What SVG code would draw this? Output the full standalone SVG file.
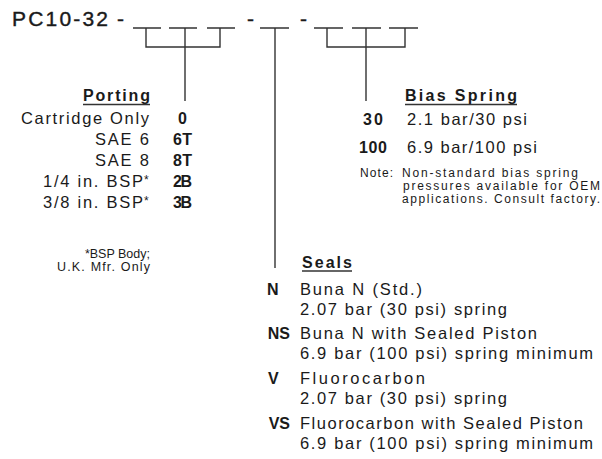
<svg xmlns="http://www.w3.org/2000/svg" width="602" height="459" viewBox="0 0 602 459">
<style>
text{font-family:"Liberation Sans",Arial,sans-serif;fill:#1a1a1a}
.t{font-size:21px;stroke:#1a1a1a;stroke-width:0.4}
.m{font-size:16.5px}
.b{font-size:16px;font-weight:bold}
.s{font-size:12px}
.f{font-size:12.5px}
.ln{stroke:#333;stroke-width:1.4;fill:none}
</style>
<rect width="602" height="459" fill="#fff"/>
<g id="title">
<text class="t" x="12" y="26" textLength="96" lengthAdjust="spacing">PC10-32</text>
<text class="t" x="117" y="26">-</text>
<text class="t" x="247" y="26">-</text>
<text class="t" x="300" y="26">-</text>
<path class="ln" d="M133,28H161M169,28H197M207,28H235M260,28H289M314,28H343M352,28H381M389,28H418"/>
</g>
<g id="connectors">
<path class="ln" d="M146,28V47H220V28M185,28V101"/>
<path class="ln" d="M275,28V268"/>
<path class="ln" d="M327,28V47H405V28M366,28V101"/>
</g>
<g id="porting">
<text class="b" x="83" y="101" textLength="67" lengthAdjust="spacing">Porting</text>
<path class="ln" d="M83,104.5H150"/>
<text class="m" x="21" y="124" textLength="128" lengthAdjust="spacing">Cartridge Only</text>
<text class="b" x="178" y="124">0</text>
<text class="m" x="95" y="145" textLength="54" lengthAdjust="spacing">SAE 6</text>
<text class="b" x="173" y="145" textLength="19" lengthAdjust="spacing">6T</text>
<text class="m" x="95" y="166" textLength="54" lengthAdjust="spacing">SAE 8</text>
<text class="b" x="173" y="166" textLength="19" lengthAdjust="spacing">8T</text>
<text class="m" x="43" y="187" textLength="100" lengthAdjust="spacing">1/4 in. BSP</text>
<text class="s" x="144" y="184">*</text>
<text class="b" x="173" y="187" textLength="19" lengthAdjust="spacing">2B</text>
<text class="m" x="43" y="208" textLength="100" lengthAdjust="spacing">3/8 in. BSP</text>
<text class="s" x="144" y="205">*</text>
<text class="b" x="173" y="208" textLength="19" lengthAdjust="spacing">3B</text>
<text class="f" x="150" y="257.5" text-anchor="end">*BSP Body;</text>
<text class="f" x="57" y="271" textLength="93" lengthAdjust="spacing">U.K. Mfr. Only</text>
</g>
<g id="bias-spring">
<text class="b" x="405" y="101" textLength="112" lengthAdjust="spacing">Bias Spring</text>
<path class="ln" d="M405,104.5H517"/>
<text class="b" x="363" y="125" textLength="20" lengthAdjust="spacing">30</text>
<text class="m" x="407" y="125" textLength="120" lengthAdjust="spacing">2.1 bar/30 psi</text>
<text class="b" x="359" y="153" textLength="28" lengthAdjust="spacing">100</text>
<text class="m" x="407" y="153" textLength="130" lengthAdjust="spacing">6.9 bar/100 psi</text>
<text class="s" x="360" y="177" textLength="33" lengthAdjust="spacing">Note:</text>
<text class="s" x="402" y="177" textLength="176" lengthAdjust="spacing">Non-standard bias spring</text>
<text class="s" x="403" y="190" textLength="197" lengthAdjust="spacing">pressures available for OEM</text>
<text class="s" x="402" y="203" textLength="198" lengthAdjust="spacing">applications. Consult factory.</text>
</g>
<g id="seals">
<text class="b" x="302" y="268" textLength="50" lengthAdjust="spacing">Seals</text>
<path class="ln" d="M302,271H352"/>
<text class="b" x="267" y="295">N</text>
<text class="m" x="300" y="295" textLength="122" lengthAdjust="spacing">Buna N (Std.)</text>
<text class="m" x="300" y="315" textLength="207" lengthAdjust="spacing">2.07 bar (30 psi) spring</text>
<text class="b" x="290" y="339" text-anchor="end">NS</text>
<text class="m" x="300" y="339" textLength="237" lengthAdjust="spacing">Buna N with Sealed Piston</text>
<text class="m" x="300" y="359" textLength="293" lengthAdjust="spacing">6.9 bar (100 psi) spring minimum</text>
<text class="b" x="268" y="384">V</text>
<text class="m" x="300" y="384" textLength="125" lengthAdjust="spacing">Fluorocarbon</text>
<text class="m" x="300" y="404" textLength="207" lengthAdjust="spacing">2.07 bar (30 psi) spring</text>
<text class="b" x="290" y="429" text-anchor="end">VS</text>
<text class="m" x="300" y="429" textLength="283" lengthAdjust="spacing">Fluorocarbon with Sealed Piston</text>
<text class="m" x="300" y="449" textLength="293" lengthAdjust="spacing">6.9 bar (100 psi) spring minimum</text>
</g>
</svg>
